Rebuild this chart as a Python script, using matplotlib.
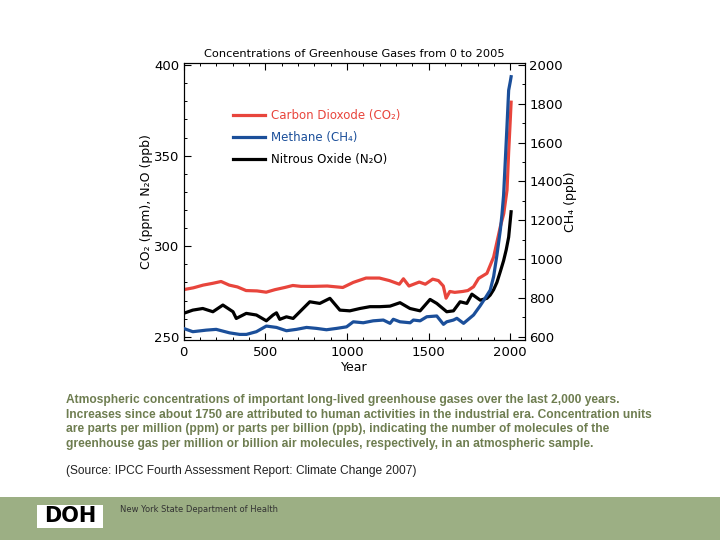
import matplotlib
matplotlib.use("Agg")
import matplotlib.pyplot as plt
from matplotlib.patches import Rectangle

# ---- data ----
co2_years = [0, 60, 120, 179, 230, 280, 330, 383, 450, 506, 560, 620, 669, 720, 791,
             880, 975, 1039, 1117, 1199, 1260, 1321, 1346, 1380, 1443, 1480, 1525, 1560,
             1590, 1607, 1630, 1660, 1709, 1740, 1775, 1806, 1857, 1898, 1939, 1960,
             1980, 1990, 2000, 2005]
co2_ppm = [276.0, 277.0, 278.5, 279.5, 280.5, 278.5, 277.5, 275.5, 275.3, 274.6, 276.0,
           277.2, 278.3, 277.8, 277.8, 278.0, 277.2, 280.0, 282.4, 282.4, 281.0, 279.0,
           282.0, 278.0, 280.2, 279.0, 281.8, 281.0, 278.0, 271.3, 275.0, 274.5, 275.0,
           275.5, 277.6, 282.2, 285.0, 294.0, 310.7, 318.0, 331.0, 352.0, 370.0, 379.5]

ch4_years = [0, 57, 139, 200, 282, 344, 385, 446, 507, 569, 630, 691, 753, 814, 875,
             937, 998, 1039, 1100, 1161, 1223, 1264, 1284, 1325, 1387, 1407, 1448, 1489,
             1550, 1591, 1611, 1652, 1673, 1714, 1775, 1816, 1847, 1877, 1898, 1918,
             1939, 1949, 1959, 1969, 1980, 1990, 2000, 2005]
ch4_ppb = [643, 626, 634, 638, 620, 612, 612, 626, 655, 648, 631, 638, 648, 643, 636,
           643, 651, 677, 672, 682, 686, 669, 690, 677, 672, 686, 682, 703, 707, 664,
           677, 686, 695, 669, 712, 760, 800, 840, 910, 1020, 1150, 1230, 1330, 1500,
           1690, 1870, 1915, 1940]

n2o_years = [0, 57, 118, 180, 241, 303, 323, 384, 446, 507, 548, 569, 589, 630, 671,
             712, 773, 834, 896, 957, 1018, 1080, 1141, 1202, 1264, 1325, 1386, 1448,
             1509, 1550, 1611, 1652, 1693, 1734, 1765, 1816, 1857, 1877, 1898, 1918,
             1939, 1959, 1975, 1990, 2005]
n2o_ppb = [262.9, 264.7, 265.6, 263.8, 267.5, 263.8, 260.1, 262.9, 262.0, 258.8, 262.0,
           263.2, 259.6, 261.0, 260.1, 263.8, 269.3, 268.4, 271.2, 264.7, 264.3, 265.6,
           266.6, 266.6, 266.9, 268.8, 265.6, 264.3, 270.6, 268.4, 263.8, 264.3, 269.3,
           268.4, 273.5, 270.2, 271.2, 273.0, 276.0, 280.0, 286.0, 292.0, 298.0, 305.0,
           319.0]

left_ticks = [250, 300, 350, 400]
right_ticks = [600, 800, 1000, 1200, 1400, 1600, 1800, 2000]
x_ticks = [0, 500, 1000, 1500, 2000]

RED = "#e8453c"
BLUE = "#1b4f9a"
BLACK = "#000000"

plt.rcParams['font.family'] = ['DejaVu Sans']

fig = plt.figure(figsize=(7.2, 5.4), dpi=100)
fig.patch.set_facecolor("white")

ax = fig.add_axes([183.5 / 720, 200 / 540, (525 - 183.5) / 720, (340 - 62.7) / 540])
ax2 = ax.twinx()

lo, hi = 248.2, 401.3
ax.set_ylim(lo, hi)
ax2.set_ylim(600 + (lo - 250) * 28 / 3, 600 + (hi - 250) * 28 / 3)
ax.set_xlim(0, 2090)

lw = 2.3
l1, = ax.plot(co2_years, co2_ppm, color=RED, lw=lw, label="Carbon Dioxode (CO\u2082)", zorder=3)
l3, = ax.plot(n2o_years, n2o_ppb, color=BLACK, lw=lw, label="Nitrous Oxide (N\u2082O)", zorder=3)
l2, = ax2.plot(ch4_years, ch4_ppb, color=BLUE, lw=lw, label="Methane (CH\u2084)", zorder=3)

ax.set_xticks(x_ticks)
ax.set_xticks(range(0, 2100, 100), minor=True)
ax.set_yticks(left_ticks)
ax.set_yticks(range(250, 401, 10), minor=True)
ax2.set_yticks(right_ticks)
ax2.set_yticks(range(600, 2001, 100), minor=True)

for a in (ax, ax2):
    for s in a.spines.values():
        s.set_linewidth(0.8)
ax.tick_params(axis='x', which='both', direction='in', top=True, bottom=True, labelsize=9.5, pad=4)
ax.tick_params(axis='y', which='both', direction='in', left=True, right=False, labelsize=9.5, pad=3)
ax.tick_params(which='major', length=5, width=0.8)
ax.tick_params(which='minor', length=2.5, width=0.7)
ax2.tick_params(axis='y', which='both', direction='in', labelsize=9.5, pad=3)
ax2.tick_params(which='major', length=5, width=0.8)
ax2.tick_params(which='minor', length=2.5, width=0.7)

ax.set_xlabel("Year", fontsize=9, labelpad=2)
ax.set_ylabel("CO\u2082 (ppm), N\u2082O (ppb)", fontsize=9, labelpad=0.5)
ax2.set_ylabel("CH\u2084 (ppb)", fontsize=9, labelpad=1)
ax.set_title("Concentrations of Greenhouse Gases from 0 to 2005", fontsize=8.2, pad=4)

leg = ax2.legend(handles=[l1, l2, l3], loc='upper left', frameon=False,
                 bbox_to_anchor=(233 / 720, 1 - 109 / 540), bbox_transform=fig.transFigure,
                 fontsize=8.5, handlelength=2.75, handletextpad=0.5, labelspacing=0.78,
                 borderpad=0, borderaxespad=0)
for txt, ln in zip(leg.get_texts(), [l1, l2, l3]):
    txt.set_color(ln.get_color())

# caption
cap_color = "#6e7d50"
caption = [
    "Atmospheric concentrations of important long-lived greenhouse gases over the last 2,000 years.",
    "Increases since about 1750 are attributed to human activities in the industrial era. Concentration units",
    "are parts per million (ppm) or parts per billion (ppb), indicating the number of molecules of the",
    "greenhouse gas per million or billion air molecules, respectively, in an atmospheric sample.",
]
ys = [400, 414.5, 429, 443.5]
for line, y in zip(caption, ys):
    fig.text(66 / 720, 1 - y / 540, line, fontsize=8.62, fontweight='bold', color=cap_color,
             family=['Liberation Sans Narrow', 'Liberation Sans'], va='center', ha='left')
fig.text(66 / 720, 1 - 471 / 540, "(Source: IPCC Fourth Assessment Report: Climate Change 2007)",
         fontsize=8.62, color="#222222", family=['Liberation Sans Narrow', 'Liberation Sans'],
         va='center', ha='left')

# footer band
fig.patches.append(Rectangle((0, 0), 1, 43 / 540, transform=fig.transFigure,
                             facecolor="#9caf84", edgecolor='none', zorder=0))
fig.patches.append(Rectangle((37 / 720, 1 - 528 / 540), 66 / 720, 23 / 540,
                             transform=fig.transFigure, facecolor="white",
                             edgecolor='none', zorder=1))
fig.text(70 / 720, 1 - 516.5 / 540, "DOH", fontsize=15, fontweight='heavy', color='black',
         ha='center', va='center', zorder=2)
fig.text(120 / 720, 1 - 510 / 540, "New York State Department of Health", fontsize=6,
         color="#333333", ha='left', va='center')

fig.savefig("out.png", dpi=100)
